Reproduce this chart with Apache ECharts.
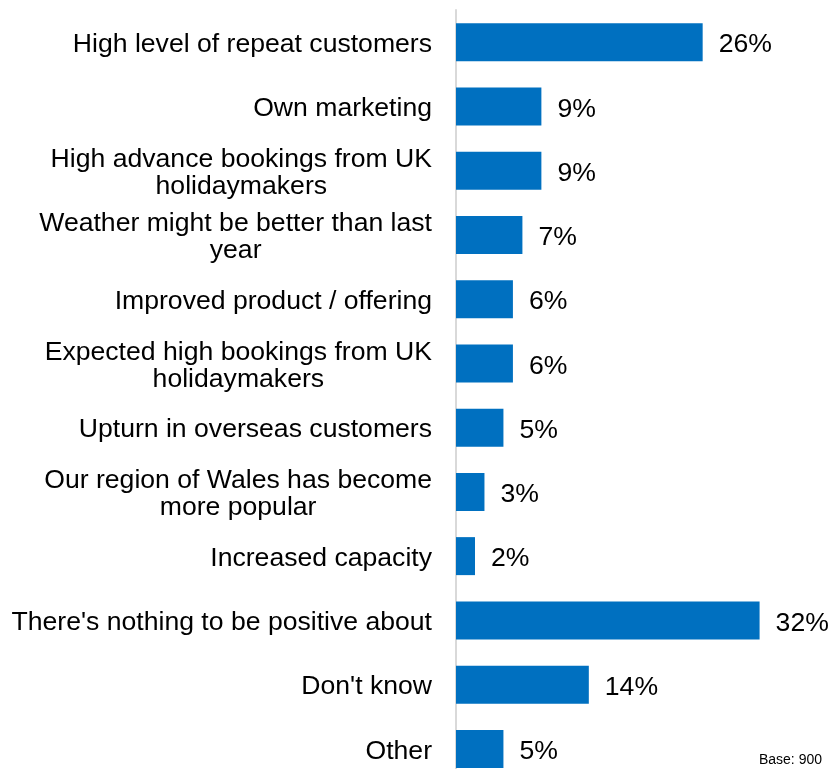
<!DOCTYPE html>
<html>
<head>
<meta charset="utf-8">
<script src="https://cdn.jsdelivr.net/npm/echarts@6/dist/echarts.min.js"></script>
<style>
  html, body { margin: 0; padding: 0; background: #ffffff; }
  #chart { width: 830px; height: 769px; }
</style>
</head>
<body>
<div id="chart"></div>
<script>
// Reasons for feeling positive about the coming season (% of businesses)
const categories = [
  "High level of repeat customers",
  "Own marketing",
  "High advance bookings from UK\nholidaymakers",
  "Weather might be better than last\nyear",
  "Improved product / offering",
  "Expected high bookings from UK\nholidaymakers",
  "Upturn in overseas customers",
  "Our region of Wales has become\nmore popular",
  "Increased capacity",
  "There's nothing to be positive about",
  "Don't know",
  "Other"
];
const percentages = [26, 9, 9, 7, 6, 6, 5, 3, 2, 32, 14, 5];
const baseNote = "Base: 900";

const FONT = "'Liberation Sans', Arial, Helvetica, sans-serif";
const BLUE = "#0070C0";
const LABEL_SIZE = 26.6;

const chart = echarts.init(document.getElementById("chart"), null, { renderer: "canvas" });

chart.setOption({
  animation: false,
  backgroundColor: "#ffffff",
  grid: {
    left: 456, right: 4, top: 10, height: 771,
    containLabel: false,
    outerBoundsMode: "none"
  },
  xAxis: {
    type: "value",
    min: 0,
    max: 39,
    show: false
  },
  yAxis: {
    type: "category",
    inverse: true,
    data: categories,
    axisTick: { show: false },
    axisLine: { show: true, lineStyle: { color: "#d9d9d9", width: 2 } },
    axisLabel: {
      margin: 24,
      align: "right",
      fontFamily: FONT,
      fontSize: LABEL_SIZE,
      color: "#000000",
      lineHeight: 27,
      padding: [5, 0, 0, 0],
      // each line centred inside the right-aligned label block
      formatter: function (value) {
        return value.split("\n").map(function (line) { return "{c|" + line + "}"; }).join("\n");
      },
      rich: {
        c: { align: "center", fontFamily: FONT, fontSize: LABEL_SIZE, color: "#000000", lineHeight: 27 }
      }
    },
    splitLine: { show: false }
  },
  series: [{
    type: "bar",
    data: percentages,
    barWidth: 38,
    itemStyle: { color: BLUE },
    label: {
      show: true,
      position: "right",
      distance: 16,
      offset: [0, 3],
      formatter: "{c}%",
      fontFamily: FONT,
      fontSize: LABEL_SIZE,
      color: "#000000"
    }
  }],
  graphic: [{
    type: "text",
    right: 8,
    bottom: 2,
    style: { text: baseNote, font: "14px " + FONT, fill: "#000000" }
  }]
});
</script>
</body>
</html>
